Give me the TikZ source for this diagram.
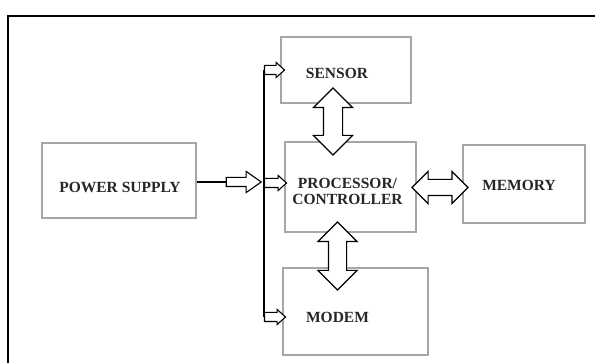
\documentclass[tikz,border=0pt]{standalone}
\usepackage{fontspec}
\setmainfont{Liberation Serif}
\usetikzlibrary{shapes.arrows,positioning}

\tikzset{
  box/.style={draw=gray!70, line width=1.1pt, inner sep=0pt},
  lbl/.style={font=\bfseries\fontsize{15.5}{16}\selectfont, text=black!85, align=center, inner sep=0pt},
  wire/.style={line width=1.2pt},
  bigarrow/.style={double arrow, draw, fill=white, line width=1.1pt, inner xsep=0pt, inner ysep=#1,
    double arrow tip angle=90},
  smallarrow/.style={single arrow, draw, fill=white, line width=1.1pt, inner xsep=0pt, inner ysep=4pt,
    single arrow head extend=#1},
}

\begin{document}
\begin{tikzpicture}[x=1pt, y=-1pt]
	\useasboundingbox (0,0) rectangle (595,363);
	\clip (0,0) rectangle (595,363);
	\draw[line width=1.5pt] (8,16) rectangle (610,380);

	% blocks
	\node[box, minimum width=154pt, minimum height=75pt,
	  label={[lbl, xshift=1pt, yshift=-6.5pt]center:POWER SUPPLY}] (ps) at (119,180.5) {};
	\node[box, minimum width=130pt, minimum height=66pt,
	  label={[lbl, xshift=-9pt, yshift=-3pt]center:SENSOR}] (sensor) at (346,70) {};
	\node[box, minimum width=131pt, minimum height=90pt,
	  label={[lbl, xshift=-3pt, yshift=-4pt]center:PROCESSOR/\\CONTROLLER}] (proc) at (350.5,187) {};
	\node[box, minimum width=122pt, minimum height=78pt,
	  label={[lbl, xshift=-5pt, yshift=-1pt]center:MEMORY}] (memory) at (524,184) {};
	\node[box, minimum width=145pt, minimum height=87pt,
	  label={[lbl, xshift=-18pt, yshift=-5.5pt]center:MODEM}] (modem) at (355.5,311.5) {};

	% data paths
	\node[bigarrow=9pt, double arrow head extend=10pt, rotate=90, minimum height=67pt] (sp) at (333,121.5) {};
	\node[bigarrow=8.5pt, double arrow head extend=10.5pt, rotate=90, minimum height=68pt] (pm) at (337.5,256) {};
	\node[bigarrow=7.5pt, double arrow head extend=8pt, minimum height=56pt] (pmem) at (440,187.5) {};

	% power bus
	\node[smallarrow=6pt, single arrow tip angle=70, minimum height=35pt] (pwr) at (240.5,182) {};
	\node[smallarrow=3pt, single arrow tip angle=84, minimum height=20pt] (sarr) at (272,70) {};
	\node[smallarrow=3pt, single arrow tip angle=84, minimum height=22pt] (parr) at (273,183) {};
	\node[smallarrow=3pt, single arrow tip angle=84, minimum height=21pt] (marr) at (272.5,317) {};
	\draw[wire] (ps.east |- pwr.tail) -- (pwr.tail);
	\draw[wire] (sarr.tail) -- (marr.tail);
\end{tikzpicture}
\end{document}
